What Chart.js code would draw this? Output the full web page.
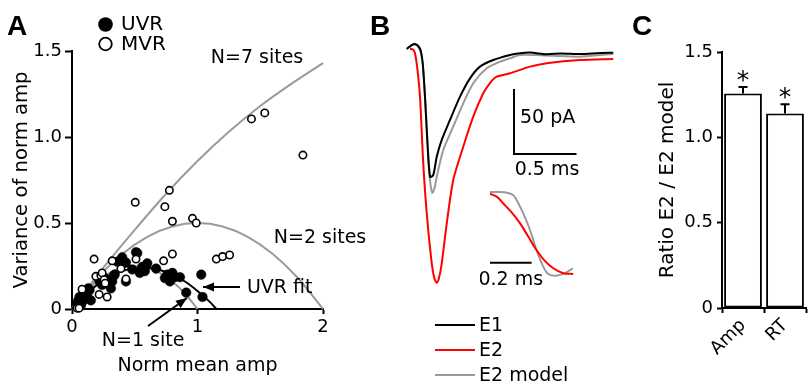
<!DOCTYPE html>
<html><head><meta charset="utf-8">
<script src="https://cdn.jsdelivr.net/npm/chart.js@4.4.1/dist/chart.umd.min.js"></script>
<style>
html,body{margin:0;padding:0;background:#fff;width:811px;height:387px;overflow:hidden;}
canvas{position:absolute;}
</style></head><body>
<canvas id="cA" width="380" height="387" style="left:0;top:0"></canvas>
<canvas id="cB" width="265" height="387" style="left:365px;top:0"></canvas>
<canvas id="cI" width="110" height="125" style="left:480px;top:175px"></canvas>
<canvas id="cC" width="181" height="387" style="left:630px;top:0"></canvas>
<script>
// ---------- Panel A data ----------
const uvrX = [0.04,0.05,0.06,0.07,0.08,0.10,0.11,0.12,0.13,0.14,0.15,0.22,0.24,0.26,0.30,0.31,0.32,0.33,0.34,0.36,0.38,0.40,0.43,0.43,0.48,0.51,0.52,0.54,0.56,0.58,0.60,0.67,0.74,0.76,0.78,0.80,0.82,0.86,0.91,1.03,1.04];
const uvrY = [0.03,0.05,0.07,0.02,0.04,0.08,0.06,0.09,0.12,0.11,0.05,0.16,0.14,0.18,0.17,0.12,0.16,0.19,0.20,0.275,0.28,0.30,0.27,0.16,0.23,0.33,0.325,0.21,0.245,0.22,0.265,0.235,0.18,0.20,0.16,0.21,0.185,0.185,0.095,0.20,0.07];
const mvrX = [0.04,0.056,0.08,0.176,0.19,0.216,0.23,0.24,0.256,0.264,0.28,0.32,0.39,0.43,0.504,0.51,0.73,0.74,0.776,0.80,0.80,0.96,0.99,1.15,1.20,1.256,1.43,1.536,1.84];
const mvrY = [0.005,0.005,0.115,0.29,0.19,0.085,0.195,0.21,0.17,0.15,0.07,0.28,0.235,0.175,0.62,0.29,0.28,0.595,0.69,0.51,0.32,0.527,0.50,0.29,0.305,0.314,1.105,1.14,0.895];
const n7X = [0,0.25,0.5,0.75,1,1.25,1.5,1.75,2];
const n7Y = [0,0.24,0.46,0.67,0.86,1.03,1.18,1.31,1.43];
const n2X = [0,0.2,0.4,0.6,0.8,1,1.2,1.4,1.6,1.8,2];
const n2Y = [0,0.18,0.32,0.42,0.48,0.5,0.48,0.42,0.32,0.18,0];
const n1X = [0,0.1,0.2,0.3,0.4,0.5,0.6,0.7,0.8,0.9,1];
const n1Y = [0,0.09,0.16,0.21,0.24,0.25,0.24,0.21,0.16,0.09,0];
const fitX = [0,0.1,0.2,0.3,0.4,0.5,0.6,0.7,0.8,0.9,1.0,1.1,1.15];
const fitY = [0,0.075,0.14,0.185,0.22,0.237,0.24,0.227,0.2,0.16,0.105,0.04,0];
const aXTicks = [0,1,2];
const aYTicks = ['0','0.5','1.0','1.5'];

// ---------- Panel B data (ms, pA) ----------
const e1T = [0.014,0.054,0.08,0.106,0.126,0.142,0.16,0.178,0.20,0.226,0.254,0.294,0.36,0.44,0.52,0.60,0.706,0.84,0.92,1.0,1.134,1.25,1.40,1.56,1.666];
const e1I = [0.8,3.8,4.6,3.1,-0.5,-10.2,-35.9,-69.2,-97.5,-96.2,-82.1,-69.2,-53.8,-35.9,-21.8,-12.8,-7.7,-3.8,-2.5,-2.0,-3.3,-2.6,-3.1,-2.3,-2.1];
const e2T = [0.04,0.064,0.08,0.10,0.12,0.146,0.174,0.214,0.236,0.254,0.272,0.294,0.334,0.386,0.466,0.546,0.626,0.68,0.734,0.84,1.0,1.134,1.40,1.666];
const e2I = [0.8,0.4,-2.5,-15.4,-35.9,-87.2,-125.6,-164.1,-176.2,-179,-175.4,-164.1,-133.3,-100,-74.4,-51.3,-33.3,-25.4,-20.5,-17.9,-12.8,-10.2,-7.7,-6.9];
const modT = [0.014,0.054,0.08,0.106,0.128,0.144,0.164,0.184,0.20,0.218,0.236,0.254,0.306,0.386,0.466,0.546,0.654,0.76,0.84,0.92,1.134,1.40,1.56,1.666];
const modI = [0.8,3.8,4.2,2.3,-2.3,-13.8,-42.3,-76.9,-100,-109.8,-106.2,-97.5,-76.9,-59,-41,-25.6,-14.1,-9,-6.4,-3.8,-4.2,-5.2,-3.8,-3.1];
const barPA = 50, barMs = 0.5;          // scale bar sizes
const barOrigin = [0.872, -80];         // corner of scale bar (ms, pA)
// inset (ms, normalised)
const insE2T = [0,0.034,0.064,0.101,0.144,0.183,0.224,0.264,0.304,0.352,0.4];
const insE2Y = [-0.02,-0.06,-0.14,-0.24,-0.38,-0.54,-0.71,-0.84,-0.93,-0.99,-1.0];
const insModT = [0,0.048,0.082,0.112,0.135,0.16,0.192,0.224,0.256,0.28,0.32,0.36,0.398];
const insModY = [0,0,-0.01,-0.04,-0.13,-0.26,-0.46,-0.71,-0.91,-1.0,-1.02,-0.99,-0.93];
const insBarMs = 0.2;
const legendB = ['E1','E2','E2 model'];
const colorsB = ['#000000','#ff0000','#999999'];

// ---------- Panel C data ----------
const cCats = ['Amp','RT'];
const cVals = [1.257, 1.14];
const cErr = [0.038, 0.054];
const cSig = ['*','*'];

Chart.defaults.font.family = "'DejaVu Sans', Verdana, sans-serif";
Chart.defaults.color = '#000';

const pts = (xs, ys) => xs.map((x,i)=>({x:x, y:ys[i]}));
const arrow = (ctx, x1,y1,x2,y2) => {
  ctx.beginPath(); ctx.moveTo(x1,y1); ctx.lineTo(x2,y2); ctx.stroke();
  const a = Math.atan2(y2-y1,x2-x1), L=11, W=4.5;
  ctx.beginPath();
  ctx.moveTo(x2,y2);
  ctx.lineTo(x2-L*Math.cos(a)+W*Math.sin(a), y2-L*Math.sin(a)-W*Math.cos(a));
  ctx.lineTo(x2-L*Math.cos(a)-W*Math.sin(a), y2-L*Math.sin(a)+W*Math.cos(a));
  ctx.closePath(); ctx.fill();
};

// ---------- Panel A ----------
const annA = {
  id:'annA',
  afterDraw(chart){
    const {ctx} = chart; const xs = chart.scales.x, ys = chart.scales.y;
    const X = v=>xs.getPixelForValue(v), Y = v=>ys.getPixelForValue(v);
    ctx.save();
    ctx.fillStyle='#000'; ctx.strokeStyle='#000'; ctx.lineWidth=2;
    ctx.font="bold 28px 'Liberation Sans', Arial, sans-serif";
    ctx.textBaseline='alphabetic'; ctx.textAlign='left';
    ctx.fillText('A', 7, 35);
    ctx.font="19px 'DejaVu Sans'"; ctx.textBaseline='middle';
    ctx.textAlign='center';
    ctx.fillText('N=7 sites', X(1.474), Y(1.459));
    ctx.fillText('N=2 sites', X(1.976), Y(0.415));
    ctx.fillText('N=1 site', X(0.566), Y(-0.186));
    ctx.textAlign='left';
    ctx.fillText('UVR fit', X(1.394), Y(0.122));
    arrow(ctx, X(1.339), Y(0.128), X(1.044), Y(0.128));
    arrow(ctx, X(0.606), Y(-0.099), X(0.916), Y(0.064));
    // legend
    ctx.beginPath(); ctx.arc(105.5,24.5,7.3,0,Math.PI*2); ctx.fill();
    ctx.beginPath(); ctx.arc(105.5,44,6.3,0,Math.PI*2); ctx.lineWidth=1.8; ctx.stroke();
    ctx.font="20px 'DejaVu Sans'";
    ctx.fillText('UVR', 121, 25);
    ctx.fillText('MVR', 121, 45);
    ctx.restore();
  }
};
new Chart(document.getElementById('cA'), {
  type:'scatter',
  data:{datasets:[
    {data:pts(mvrX,mvrY), pointRadius:3.7, pointBackgroundColor:'#fff', pointBorderColor:'#000', pointBorderWidth:1.6, showLine:false, clip:false},
    {data:pts(uvrX,uvrY), pointRadius:4.8, pointBackgroundColor:'#000', pointBorderColor:'#000', pointBorderWidth:0.5, showLine:false, clip:false},
    {data:pts(fitX,fitY), showLine:true, pointRadius:0, borderColor:'#000', borderWidth:2, cubicInterpolationMode:'monotone', clip:false},
    {data:pts(n1X,n1Y), showLine:true, pointRadius:0, borderColor:'#9a9a9a', borderWidth:2, cubicInterpolationMode:'monotone', clip:false},
    {data:pts(n2X,n2Y), showLine:true, pointRadius:0, borderColor:'#9a9a9a', borderWidth:2, cubicInterpolationMode:'monotone', clip:false},
    {data:pts(n7X,n7Y), showLine:true, pointRadius:0, borderColor:'#9a9a9a', borderWidth:2, cubicInterpolationMode:'monotone', clip:false}
  ]},
  options:{
    responsive:false, animation:false, events:[],
    layout:{padding:{left:0,top:51,right:57,bottom:0}},
    plugins:{legend:{display:false}, tooltip:{enabled:false}},
    scales:{
      x:{type:'linear', min:0, max:2, afterFit(s){s.height=78;},
         afterBuildTicks(s){s.ticks = aXTicks.map(v=>({value:v}));},
         ticks:{font:{size:18}, color:'#000', padding:3, callback:v=>String(v)},
         grid:{drawOnChartArea:false, tickLength:5, tickWidth:2, tickColor:'#000'},
         border:{display:true, color:'#000', width:2},
         title:{display:true, text:'Norm mean amp', font:{size:19}, color:'#000', padding:{top:0,bottom:10}}},
      y:{type:'linear', min:0, max:1.5, afterFit(s){s.width=72;},
         afterBuildTicks(s){s.ticks = aYTicks.map(v=>({value:parseFloat(v)}));},
         ticks:{font:{size:18}, color:'#000', padding:3, callback:(v,i)=>aYTicks[i]},
         grid:{drawOnChartArea:false, tickLength:7, tickWidth:2, tickColor:'#000'},
         border:{display:true, color:'#000', width:2},
         title:{display:true, text:'Variance of norm amp', font:{size:19.6}, color:'#000', padding:{top:10,bottom:0}}}
    }
  },
  plugins:[annA]
});

// ---------- Panel B ----------
const annB = {
  id:'annB',
  afterDraw(chart){
    const {ctx} = chart; const xs = chart.scales.x, ys = chart.scales.y;
    const X = v=>xs.getPixelForValue(v), Y = v=>ys.getPixelForValue(v);
    ctx.save(); ctx.fillStyle='#000';
    ctx.font="bold 28px 'Liberation Sans', Arial, sans-serif";
    ctx.textBaseline='alphabetic'; ctx.textAlign='left';
    ctx.fillText('B', 5, 35);
    ctx.font="19px 'DejaVu Sans'"; ctx.textBaseline='middle';
    ctx.fillText(barPA+' pA', X(barOrigin[0]+0.048), Y(barOrigin[1]+barPA*0.555));
    ctx.textAlign='center';
    ctx.fillText(barMs+' ms', X(barOrigin[0]+barMs*0.528), Y(barOrigin[1]-12.3));
    // legend
    ctx.textAlign='left';
    legendB.forEach((t,i)=>{
      const y = 325 + i*25;
      ctx.strokeStyle = colorsB[i]; ctx.lineWidth=2;
      ctx.beginPath(); ctx.moveTo(70,y); ctx.lineTo(110,y); ctx.stroke();
      ctx.fillText(t, 114, y+1);
    });
    ctx.restore();
  }
};
new Chart(document.getElementById('cB'), {
  type:'scatter',
  data:{datasets:[
    {data:pts(e1T,e1I), showLine:true, pointRadius:0, borderColor:colorsB[0], borderWidth:2, tension:0.25, clip:false},
    {data:pts(e2T,e2I), showLine:true, pointRadius:0, borderColor:colorsB[1], borderWidth:2, tension:0.25, clip:false},
    {data:pts(modT,modI), showLine:true, pointRadius:0, borderColor:colorsB[2], borderWidth:2, tension:0.25, clip:false},
    {data:[{x:barOrigin[0],y:barOrigin[1]+barPA},{x:barOrigin[0],y:barOrigin[1]},{x:barOrigin[0]+barMs,y:barOrigin[1]}], showLine:true, pointRadius:0, borderColor:'#000', borderWidth:2, tension:0, clip:false}
  ]},
  options:{
    responsive:false, animation:false, events:[],
    layout:{padding:{left:40,top:30.5,right:12.5,bottom:96.5}},
    plugins:{legend:{display:false}, tooltip:{enabled:false}},
    scales:{
      x:{type:'linear', min:0, max:1.7, display:false},
      y:{type:'linear', min:-185, max:15, display:false}
    }
  },
  plugins:[annB]
});

// ---------- Panel B inset ----------
const annI = {
  id:'annI',
  afterDraw(chart){
    const {ctx} = chart; const xs = chart.scales.x, ys = chart.scales.y;
    ctx.save(); ctx.fillStyle='#000';
    ctx.font="19px 'DejaVu Sans'"; ctx.textBaseline='middle'; ctx.textAlign='center';
    ctx.fillText(insBarMs+' ms', xs.getPixelForValue(insBarMs/2), ys.getPixelForValue(-1.07));
    ctx.restore();
  }
};
new Chart(document.getElementById('cI'), {
  type:'scatter',
  data:{datasets:[
    {data:pts(insE2T,insE2Y), showLine:true, pointRadius:0, borderColor:colorsB[1], borderWidth:2, tension:0.3, clip:false},
    {data:pts(insModT,insModY), showLine:true, pointRadius:0, borderColor:colorsB[2], borderWidth:2, tension:0.3, clip:false},
    {data:[{x:0,y:-0.862},{x:insBarMs,y:-0.862}], showLine:true, pointRadius:0, borderColor:'#000', borderWidth:2, clip:false}
  ]},
  options:{
    responsive:false, animation:false, events:[],
    layout:{padding:{left:10,top:8.8,right:6.4,bottom:9.6}},
    plugins:{legend:{display:false}, tooltip:{enabled:false}},
    scales:{
      x:{type:'linear', min:0, max:0.45, display:false},
      y:{type:'linear', min:-1.2, max:0.1, display:false}
    }
  },
  plugins:[annI]
});

// ---------- Panel C ----------
const annC = {
  id:'annC',
  afterDatasetsDraw(chart){
    const {ctx} = chart; const ys = chart.scales.y;
    const meta = chart.getDatasetMeta(0);
    ctx.save(); ctx.strokeStyle='#000'; ctx.fillStyle='#000'; ctx.lineWidth=2;
    meta.data.forEach((bar,i)=>{
      const y0 = ys.getPixelForValue(cVals[i]);
      const y1 = ys.getPixelForValue(cVals[i]+cErr[i]);
      ctx.beginPath(); ctx.moveTo(bar.x,y0); ctx.lineTo(bar.x,y1);
      ctx.moveTo(bar.x-4.5,y1); ctx.lineTo(bar.x+4.5,y1); ctx.stroke();
      ctx.font="25px 'DejaVu Sans'"; ctx.textAlign='center'; ctx.textBaseline='alphabetic';
      ctx.fillText(cSig[i], bar.x, y1+1);
    });
    ctx.font="bold 28px 'Liberation Sans', Arial, sans-serif";
    ctx.textAlign='left';
    ctx.fillText('C', 2, 35);
    ctx.restore();
  }
};
new Chart(document.getElementById('cC'), {
  type:'bar',
  data:{labels:cCats, datasets:[
    {data:cVals, backgroundColor:'#fff', borderColor:'#000', borderWidth:2, borderSkipped:false, barPercentage:0.9, categoryPercentage:1.0}
  ]},
  options:{
    responsive:false, animation:false, events:[],
    layout:{padding:{left:0,top:52,right:5,bottom:0}},
    plugins:{legend:{display:false}, tooltip:{enabled:false}},
    scales:{
      x:{afterFit(s){s.height=79;},
         ticks:{font:{size:18}, color:'#000', padding:2, minRotation:45, maxRotation:45},
         grid:{drawOnChartArea:false, offset:true, tickLength:5, tickWidth:2, tickColor:'#000'},
         border:{display:true, color:'#000', width:2}},
      y:{min:0, max:1.5, afterFit(s){s.width=92;},
         ticks:{stepSize:0.5, font:{size:18}, color:'#000', padding:4, callback:v=>v===0?'0':v.toFixed(1)},
         grid:{drawOnChartArea:false, tickLength:5, tickWidth:2, tickColor:'#000'},
         border:{display:true, color:'#000', width:2},
         title:{display:true, text:'Ratio E2 / E2 model', font:{size:20}, color:'#000', padding:{top:26,bottom:0}}}
    }
  },
  plugins:[annC]
});
</script>
</body></html>
